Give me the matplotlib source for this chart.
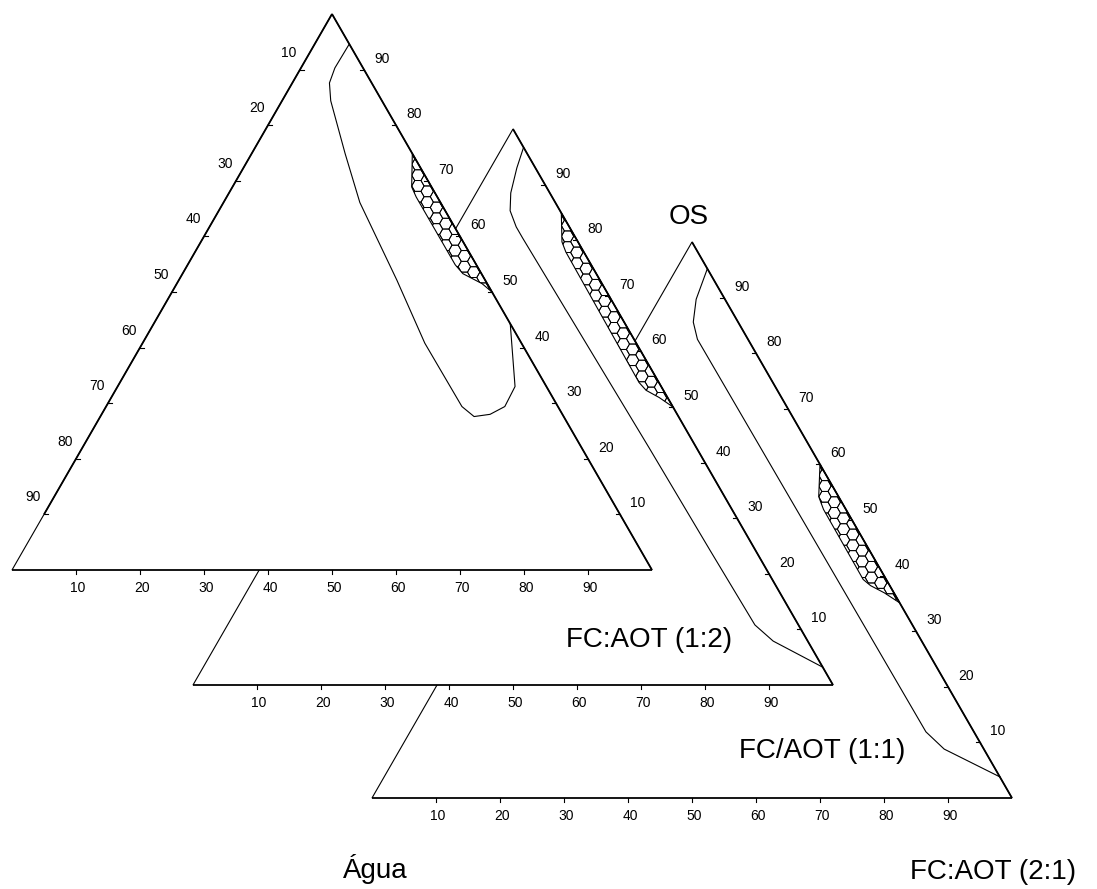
import numpy as np
import matplotlib
matplotlib.use("Agg")
import matplotlib.pyplot as plt
from matplotlib.patches import Polygon
from matplotlib.collections import PolyCollection

plt.rcParams['font.family'] = ['Liberation Sans', 'DejaVu Sans']

# Axis ticks (percent) shared by all three diagrams
tick_values = [10, 20, 30, 40, 50, 60, 70, 80, 90]
tick_labels = [str(v) for v in tick_values]

# Compositions in percent: OS / FC:AOT / Água
# --- FC:AOT (1:2) ---
bound_os_12 = [94.6, 90.3, 87.6, 84.4, 74.9, 66.1, 52.1, 40.8, 29.4, 27.6, 28.0, 29.4, 33.0, 44.3]
bound_fc_12 = [5.4, 5.3, 5.8, 7.6, 14.6, 21.3, 34.1, 44.1, 55.6, 58.4, 60.7, 62.3, 62.1, 55.7]
bound_agua_12 = [0.0, 4.4, 6.6, 8.0, 10.5, 12.6, 13.8, 15.1, 15.0, 14.0, 11.3, 8.3, 4.9, 0.0]
lc_os_12 = [74.9, 68.9, 67.1, 54.9, 53.3, 51.5, 50.0]
lc_fc_12 = [25.1, 28.0, 29.6, 41.8, 43.8, 47.7, 50.0]
lc_agua_12 = [0.0, 3.1, 3.3, 3.3, 2.9, 0.8, 0.0]

# --- FC/AOT (1:1) ---
bound_os_11 = [96.7, 93.0, 88.5, 85.3, 82.4, 80.4, 42.5, 24.2, 10.8, 7.9, 3.2]
bound_fc_11 = [3.3, 4.1, 5.4, 6.9, 9.3, 11.3, 50.1, 68.7, 82.4, 86.7, 96.8]
bound_agua_11 = [0.0, 2.9, 6.1, 7.8, 8.3, 8.3, 7.4, 7.1, 6.8, 5.4, 0.0]
lc_os_11 = [84.9, 79.7, 77.9, 54.4, 53.0, 51.7, 50.0]
lc_fc_11 = [15.1, 17.8, 19.3, 42.5, 44.3, 47.0, 50.0]
lc_agua_11 = [0.0, 2.5, 2.8, 3.1, 2.7, 1.3, 0.0]

# --- FC:AOT (2:1) ---
bound_os_21 = [95.2, 89.7, 85.6, 82.5, 30.3, 11.9, 8.8, 3.8]
bound_fc_21 = [4.8, 5.8, 7.4, 9.6, 62.1, 80.6, 85.0, 96.2]
bound_agua_21 = [0.0, 4.5, 7.0, 7.9, 7.6, 7.5, 6.2, 0.0]
lc_os_21 = [60.0, 54.2, 51.9, 39.3, 38.2, 36.9, 35.1]
lc_fc_21 = [40.0, 42.7, 44.6, 57.1, 58.8, 61.6, 64.9]
lc_agua_21 = [0.0, 3.1, 3.5, 3.6, 3.0, 1.5, 0.0]

W_PX, H_PX = 1097, 889
PX_X = 640.0
PX_Y = 642.0
SQ = np.sqrt(3) / 2

fig = plt.figure(figsize=(W_PX / 100, H_PX / 100), dpi=100)
ax = fig.add_axes([0, 0, 1, 1])
ax.set_xlim(-12 / PX_X, (W_PX - 12) / PX_X)
ax.set_ylim((570 - H_PX) / PX_Y, 570 / PX_Y)
ax.axis('off')


def tern(os_, fc_, agua_, origin):
    os_ = np.asarray(os_, float)
    fc_ = np.asarray(fc_, float)
    agua_ = np.asarray(agua_, float)
    tot = os_ + fc_ + agua_
    b = os_ / tot
    a = fc_ / tot
    return origin[0] + a + b / 2, origin[1] + b * SQ


def put_text(xy, dx_px, dy_px, text, size, z):
    ax.annotate(text, xy, xytext=(dx_px * 0.72, -dy_px * 0.72), textcoords='offset points',
                ha='center', va='baseline', fontsize=size, zorder=z, color='black',
                annotation_clip=False)


def hex_region(xs, ys, z):
    patch = Polygon(np.column_stack([xs, ys]), closed=True, fill=False,
                    edgecolor='black', lw=0.8, zorder=z)
    ax.add_patch(patch)
    R = 6.2 / PX_X
    step_x = 1.5 * R
    step_y = np.sqrt(3) * R
    ang = np.deg2rad(np.arange(0, 360, 60))
    cells = []
    for i, cx in enumerate(np.arange(min(xs) - 2 * R, max(xs) + 2 * R, step_x)):
        off = step_y / 2 if i % 2 else 0.0
        for cy in np.arange(min(ys) - 2 * R + off, max(ys) + 2 * R, step_y):
            cells.append(np.column_stack([cx + R * np.cos(ang), cy + R * np.sin(ang)]))
    pc = PolyCollection(cells, facecolors='none', edgecolors='black', linewidths=0.65, zorder=z)
    ax.add_collection(pc)
    pc.set_clip_path(patch)


def diagram(origin, z, bound, lc, left_axis, corner_label, corner_off):
    ox, oy = origin
    bl = (ox, oy)
    br = (ox + 1, oy)
    ap = (ox + 0.5, oy + SQ)
    ax.add_patch(Polygon([bl, br, ap], closed=True, facecolor='white',
                         edgecolor='black', lw=0.8, zorder=z))
    # thicker scaled sides
    ax.plot([br[0], ap[0]], [br[1], ap[1]], color='black', lw=1.3, zorder=z + 3,
            solid_capstyle='butt')
    ax.plot([bl[0], br[0]], [bl[1], br[1]], color='black', lw=1.1, zorder=z + 3,
            solid_capstyle='butt')
    if left_axis:
        p90 = (ox + 0.05, oy + 0.1 * SQ)
        ax.plot([ap[0], p90[0]], [ap[1], p90[1]], color='black', lw=1.3, zorder=z + 3,
                solid_capstyle='butt')

    bx, by = tern(*bound, origin)
    ax.plot(bx, by, color='black', lw=0.8, zorder=z + 2)
    hx, hy = tern(*lc, origin)
    hex_region(hx, hy, z + 2)

    tl = 4.0
    for v, lab in zip(tick_values, tick_labels):
        f = v / 100
        # bottom scale (FC:AOT)
        px, py = ox + f, oy
        ax.plot([px, px], [py, py - tl / PX_Y], color='black', lw=0.8, zorder=z + 3)
        put_text((px, py), 2, 22, lab, 10, z + 4)
        # right scale (OS)
        px, py = ox + 1 - f / 2, oy + f * SQ
        ax.plot([px, px - tl / PX_X], [py, py], color='black', lw=0.8, zorder=z + 3)
        put_text((px, py), 18, -7, lab, 10, z + 4)
        if left_axis:
            px, py = ox + (1 - f) / 2, oy + (1 - f) * SQ
            ax.plot([px, px + tl / PX_X], [py, py], color='black', lw=0.8, zorder=z + 3)
            put_text((px, py), -11, -13, lab, 10, z + 4)

    put_text(br, corner_off[0], corner_off[1], corner_label, 20, z + 5)
    return bl, br, ap


# back to front: 2:1, 1:1, 1:2
bl3, br3, ap3 = diagram((360 / PX_X, -228 / PX_Y), 0,
                        (bound_os_21, bound_fc_21, bound_agua_21),
                        (lc_os_21, lc_fc_21, lc_agua_21),
                        False, 'FC:AOT (2:1)', (-18.5, 81))
diagram((181 / PX_X, -115 / PX_Y), 10,
        (bound_os_11, bound_fc_11, bound_agua_11),
        (lc_os_11, lc_fc_11, lc_agua_11),
        False, 'FC/AOT (1:1)', (-10.5, 73))
diagram((0.0, 0.0), 20,
        (bound_os_12, bound_fc_12, bound_agua_12),
        (lc_os_12, lc_fc_12, lc_agua_12),
        True, 'FC:AOT (1:2)', (-3, 77))

put_text(ap3, -3, -18, 'OS', 20, 40)
put_text(bl3, 3, 80, 'Água', 20, 40)

fig.savefig('out.png', dpi=100, facecolor='white')
